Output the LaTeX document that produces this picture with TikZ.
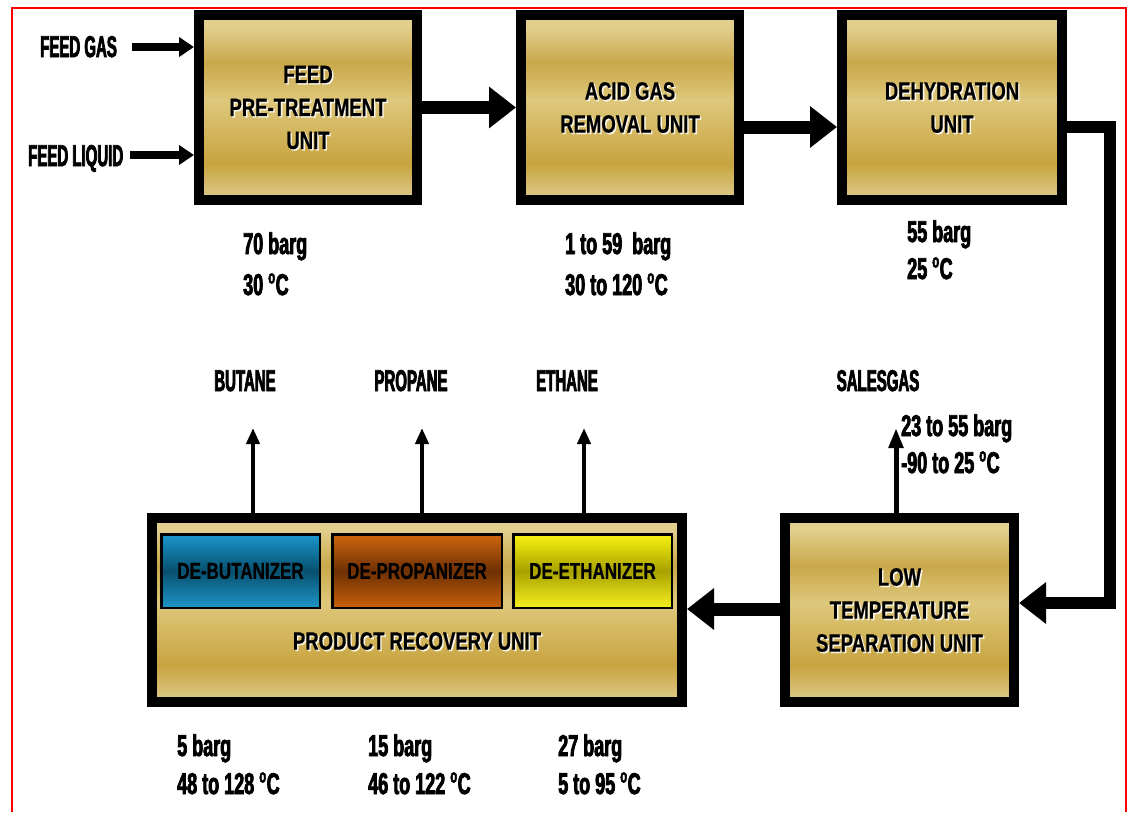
\documentclass[tikz,border=0pt]{standalone}
\usepackage{fontspec}
\usetikzlibrary{arrows.meta}
\newfontfamily\boxfont{Liberation Sans}[FakeStretch=0.74,FakeBold=0.6]
\newfontfamily\capfont{Liberation Sans}[FakeStretch=0.5,FakeBold=2.5]
\newfontfamily\numfont{Liberation Sans}[FakeStretch=0.6,FakeBold=2.5]
\newcommand\degsym{\raisebox{11.5pt}{\fontsize{19}{19}\selectfont o}\hspace{0.5pt}}
\definecolor{gTop}{HTML}{E2CF8E}
\definecolor{gDarkA}{HTML}{C9A84A}
\definecolor{gMid}{HTML}{DEC87C}
\definecolor{gDarkB}{HTML}{C8A43F}
\definecolor{gBot}{HTML}{DDCB8C}
\definecolor{bT}{HTML}{1A97CC}
\definecolor{bM}{HTML}{08506F}
\definecolor{bB}{HTML}{1E95C8}
\definecolor{oT}{HTML}{D0660F}
\definecolor{oM}{HTML}{6E3003}
\definecolor{oB}{HTML}{C8600A}
\definecolor{yT}{HTML}{F8F310}
\definecolor{yM}{HTML}{A8A200}
\definecolor{yB}{HTML}{F5F020}
\pgfdeclareverticalshading{goldshade}{100bp}{color(0bp)=(gBot); color(25bp)=(gBot); color(35bp)=(gDarkB); color(52bp)=(gMid); color(62bp)=(gDarkA); color(72bp)=(gTop); color(100bp)=(gTop)}
\newcommand\unittext[3]{%
  \node[ushadow] (#1s) at ([shift={(1.5,1.5)}]#2) {#3};
  \node[utext] (#1t) at (#2) {#3};}
\tikzset{
  unit/.style={draw=black, line width=10pt, shade, shading=goldshade, inner sep=0pt},
  utext/.style={font=\boxfont\bfseries\fontsize{25}{33}\selectfont, align=center, text=black, inner sep=0pt},
  ushadow/.style={utext, text=white, opacity=0.85},
  subunit/.style={draw=black, line width=2.5pt, inner sep=0pt},
  subtext/.style={font=\boxfont\bfseries\fontsize{23}{28}\selectfont, text=black, inner sep=0pt},
  bigarrow/.style={line width=13pt, miter limit=10, -{Triangle[length=27pt,width=40pt]}},
  midarrow/.style={line width=8pt, -{Triangle[length=15pt,width=19pt]}},
  thinarrow/.style={line width=4pt, -{Triangle[length=16pt,width=13pt]}},
  caplab/.style={font=\capfont\bfseries\fontsize{30}{36}\selectfont, inner sep=0pt, text=black},
  numlab/.style={font=\numfont\bfseries\fontsize{30}{36}\selectfont, inner sep=0pt, anchor=base west, text=black}
}
\begin{document}
\begin{tikzpicture}[x=1pt,y=-1pt]
\useasboundingbox (0,0) rectangle (1134,812);
\fill[white] (0,0) rectangle (1134,812);
\draw[red, line width=2pt] (12,812) -- (12,8) -- (1126,8) -- (1126,812);

% unit boxes
\node[unit, minimum width=218pt, minimum height=185pt] (b1) at (308,107.5) {};
\node[unit, minimum width=218pt, minimum height=185pt] (b2) at (630,107.5) {};
\node[unit, minimum width=220pt, minimum height=185pt] (b3) at (952,107.5) {};
\node[unit, minimum width=229pt, minimum height=184pt] (lts) at (899.5,610) {};
\node[unit, minimum width=530pt, minimum height=184pt] (pru) at (417,610) {};

% sub units
\node[subunit, top color=bT, bottom color=bB, middle color=bM, minimum width=158.5pt, minimum height=73.5pt] (deb) at (240.5,571) {};
\node[subunit, top color=oT, bottom color=oB, middle color=oM, minimum width=169.5pt, minimum height=73.5pt] (dep) at (417,571) {};
\node[subunit, top color=yT, bottom color=yB, middle color=yM, minimum width=158.5pt, minimum height=73.5pt] (dee) at (592.5,571) {};
\node[subtext] (debt) at (deb.center) {DE-BUTANIZER};
\node[subtext] (dept) at (dep.center) {DE-PROPANIZER};
\node[subtext] (deet) at (dee.center) {DE-ETHANIZER};

% unit texts
\unittext{b1}{b1.center}{FEED\\PRE-TREATMENT\\UNIT}
\unittext{b2}{b2.center}{ACID GAS\\REMOVAL UNIT}
\unittext{b3}{b3.center}{DEHYDRATION\\UNIT}
\unittext{lts}{lts.center}{LOW\\TEMPERATURE\\SEPARATION UNIT}
\coordinate (prc) at (417,641);
\unittext{pru}{prc}{PRODUCT RECOVERY UNIT}

% coordinates for connectors
\coordinate (fg) at (132,47);
\coordinate (fl) at (130,155);
\coordinate (r2) at (0,127);
\coordinate (c1) at (1110,127);
\coordinate (c2) at (1110,603);
\coordinate (r3) at (0,609);
\coordinate (bt) at (253,428);
\coordinate (pt) at (422,428);
\coordinate (et) at (584,428);
\coordinate (sg) at (896,428);

% connectors
\draw[midarrow] (fg) -- (b1.west |- fg);
\draw[midarrow] (fl) -- (b1.west |- fl);
\draw[bigarrow] (b1.east) -- (b2.west);
\draw[bigarrow] (b2.east |- r2) -- (b3.west |- r2);
\draw[bigarrow, line width=12pt] (b3.east |- r2) -- (c1) -- (c2) -- (lts.east |- c2);
\draw[bigarrow] (lts.west |- r3) -- (pru.east |- r3);
\draw[thinarrow] (pru.north -| bt) -- (bt);
\draw[thinarrow] (pru.north -| pt) -- (pt);
\draw[thinarrow] (pru.north -| et) -- (et);
\draw[thinarrow, line width=5pt, -{Triangle[length=20pt,width=14pt]}] (lts.north -| sg) -- (sg);

% labels
\node[caplab, anchor=base west] (lfg) at (40,57) {FEED GAS};
\node[caplab, anchor=base west] (lfl) at (28,166) {FEED LIQUID};
\node[caplab, anchor=base] (lbu) at (245,391) {BUTANE};
\node[caplab, anchor=base] (lpr) at (411,391) {PROPANE};
\node[caplab, anchor=base] (let) at (567,391) {ETHANE};
\node[caplab, anchor=base] (lsg) at (878,391) {SALESGAS};

\node[numlab] (n1a) at (243,254) {70 barg};
\node[numlab] (n1b) at (243,295) {30 \degsym C};
\node[numlab] (n2a) at (565,254) {1 to 59 \,barg};
\node[numlab] (n2b) at (565,295) {30 to 120 \degsym C};
\node[numlab] (n3a) at (907,242) {55 barg};
\node[numlab] (n3b) at (907,279) {25 \degsym C};
\node[numlab] (n4a) at (901,436) {23 to 55 barg};
\node[numlab] (n4b) at (901,473) {-90 to 25 \degsym C};
\node[numlab] (n5a) at (177,756) {5 barg};
\node[numlab] (n5b) at (177,794) {48 to 128 \degsym C};
\node[numlab] (n6a) at (368,756) {15 barg};
\node[numlab] (n6b) at (368,794) {46 to 122 \degsym C};
\node[numlab] (n7a) at (558,756) {27 barg};
\node[numlab] (n7b) at (558,794) {5 to 95 \degsym C};
\end{tikzpicture}
\end{document}
